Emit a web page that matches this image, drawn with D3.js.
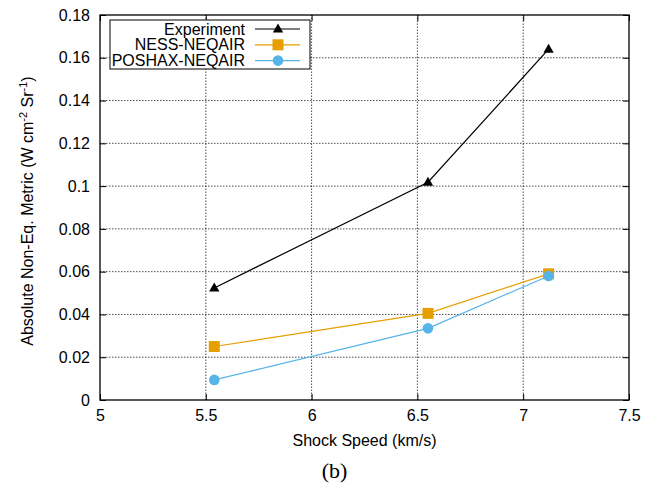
<!DOCTYPE html>
<html><head><meta charset="utf-8">
<script src="https://cdn.jsdelivr.net/npm/d3@7"></script>
<style>body{margin:0;background:#fff}svg{display:block}</style>
</head><body>
<script>
const speeds = [5.54, 6.55, 7.12];
const experiment = [0.0524, 0.1018, 0.164];
const nessNeqair = [0.025, 0.0405, 0.059];
const poshaxNeqair = [0.0094, 0.0335, 0.058];
const xTicks = [5, 5.5, 6, 6.5, 7, 7.5];
const yTicks = [0, 0.02, 0.04, 0.06, 0.08, 0.1, 0.12, 0.14, 0.16, 0.18];
const seriesNames = ["Experiment", "NESS-NEQAIR", "POSHAX-NEQAIR"];
const seriesColors = ["#000000", "#E69F00", "#56B4E9"];
const seriesMarkers = ["triangle", "square", "circle"];

const W = 665, H = 487;
const L = 100, R = 629, T = 15, B = 400;
const FS = 16;
const svg = d3.select("body").append("svg").attr("width", W).attr("height", H)
  .style("font-family", "'Liberation Sans', Arial, sans-serif");

const x = d3.scaleLinear().domain([5, 7.5]).range([L, R]);
const y = d3.scaleLinear().domain([0, 0.18]).range([B, T]);

// grid
const g = svg.append("g");
g.selectAll(".gx").data(xTicks.slice(1, -1)).enter().append("line")
  .attr("x1", d => x(d)).attr("x2", d => x(d)).attr("y1", B).attr("y2", T)
  .attr("stroke", "#000").attr("stroke-width", 0.7).attr("stroke-dasharray", "1.5,1.5");
g.selectAll(".gy").data(yTicks.slice(1, -1)).enter().append("line")
  .attr("x1", L).attr("x2", R).attr("y1", d => y(d)).attr("y2", d => y(d))
  .attr("stroke", "#000").attr("stroke-width", 0.7).attr("stroke-dasharray", "1.5,1.5");

// axes
const fmt = d => d3.format("~g")(d);
const ax = svg.append("g").attr("transform", `translate(0,${B})`)
  .call(d3.axisBottom(x).tickValues(xTicks).tickFormat(fmt).tickSizeInner(-6).tickSizeOuter(0).tickPadding(10));
const ay = svg.append("g").attr("transform", `translate(${L},0)`)
  .call(d3.axisLeft(y).tickValues(yTicks).tickFormat(fmt).tickSizeInner(-6).tickSizeOuter(0).tickPadding(10));
const axt = svg.append("g").attr("transform", `translate(0,${T})`)
  .call(d3.axisTop(x).tickValues(xTicks).tickFormat("").tickSizeInner(-6).tickSizeOuter(0));
const ayr = svg.append("g").attr("transform", `translate(${R},0)`)
  .call(d3.axisRight(y).tickValues(yTicks).tickFormat("").tickSizeInner(-6).tickSizeOuter(0));
[ax, ay, axt, ayr].forEach(a => {
  a.select(".domain").remove();
  a.selectAll("text").attr("font-size", FS).attr("fill", "#000").style("font-family", "'Liberation Sans', Arial, sans-serif");
  a.selectAll("line").attr("stroke", "#000");
});
svg.append("rect").attr("x", L).attr("y", T).attr("width", R - L).attr("height", B - T)
  .attr("fill", "none").attr("stroke", "#000").attr("stroke-width", 1.3);

// series
const allData = [experiment, nessNeqair, poshaxNeqair];
const line = d3.line().x((d, i) => x(speeds[i])).y(d => y(d));
const symType = {triangle: d3.symbolTriangle, square: d3.symbolSquare, circle: d3.symbolCircle};
const symSize = {triangle: 46, square: 121, circle: 88};
function drawMarker(sel, m, c) {
  sel.append("path").attr("d", d3.symbol().type(symType[m]).size(symSize[m])()).attr("fill", c);
}
allData.forEach((vals, k) => {
  svg.append("path").datum(vals).attr("d", line).attr("fill", "none")
    .attr("stroke", seriesColors[k]).attr("stroke-width", 1.2);
  vals.forEach((v, i) => {
    const gg = svg.append("g").attr("transform", `translate(${x(speeds[i])},${y(v) + (seriesMarkers[k] === "triangle" ? 0.5 : 0)})`);
    drawMarker(gg, seriesMarkers[k], seriesColors[k]);
  });
});

// legend
svg.append("rect").attr("x", 110).attr("y", 20).attr("width", 200).attr("height", 49)
  .attr("fill", "#fff").attr("stroke", "#000").attr("stroke-width", 1);
seriesNames.forEach((n, k) => {
  const yy = 29 + k * 15.8;
  svg.append("text").attr("x", 245).attr("y", yy + 5.5).attr("text-anchor", "end")
    .attr("font-size", FS).text(n);
  svg.append("line").attr("x1", 255).attr("x2", 300).attr("y1", yy).attr("y2", yy)
    .attr("stroke", seriesColors[k]).attr("stroke-width", 1.2);
  const gg = svg.append("g").attr("transform", `translate(278,${yy + (k === 0 ? 0.5 : 0)})`);
  drawMarker(gg, seriesMarkers[k], seriesColors[k]);
});

// labels
svg.append("text").attr("x", (L + R) / 2).attr("y", 446).attr("text-anchor", "middle")
  .attr("font-size", FS).text("Shock Speed (km/s)");
const yl = svg.append("text").attr("transform", `translate(33,211) rotate(-90)`)
  .attr("text-anchor", "middle").attr("font-size", FS);
yl.append("tspan").text("Absolute Non-Eq. Metric (W cm");
yl.append("tspan").attr("dy", -6).attr("font-size", 11).text("-2");
yl.append("tspan").attr("dy", 6).text(" Sr");
yl.append("tspan").attr("dy", -6).attr("font-size", 11).text("-1");
yl.append("tspan").attr("dy", 6).text(")");
svg.append("text").attr("x", 334.5).attr("y", 478).attr("text-anchor", "middle")
  .attr("font-size", 22).style("font-family", "'Liberation Serif', 'Times New Roman', serif").text("(b)");
</script>
</body></html>
